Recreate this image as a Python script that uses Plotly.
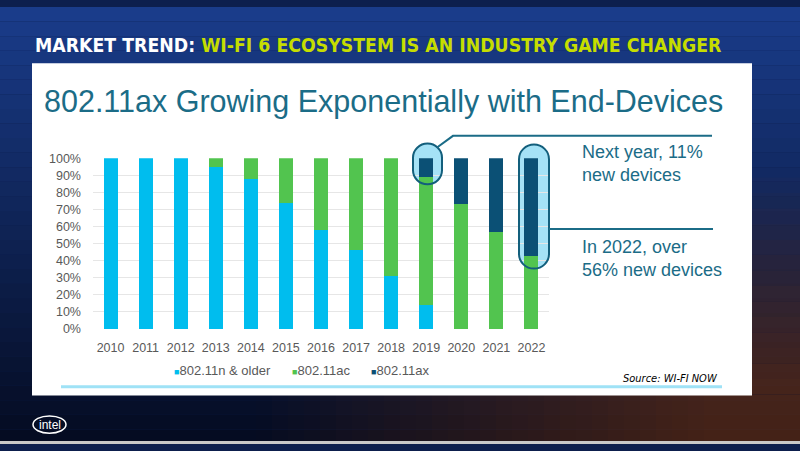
import plotly.graph_objects as go

# ---------------- data ----------------
years = [str(y) for y in range(2010, 2023)]
n_older = [100, 100, 100, 95, 88, 74, 58, 46, 31, 14, 0, 0, 0]
ac_vals = [0, 0, 0, 5, 12, 26, 42, 54, 69, 75, 73, 57, 43]
ax_vals = [0, 0, 0, 0, 0, 0, 0, 0, 0, 11, 27, 43, 57]
series_names = ["802.11n & older", "802.11ac", "802.11ax"]
y_ticks = [0, 10, 20, 30, 40, 50, 60, 70, 80, 90, 100]
y_tick_text = [f"{v}%" for v in y_ticks]

title_white = "MARKET TREND: "
title_green = "WI-FI 6 ECOSYSTEM IS AN INDUSTRY GAME CHANGER"
subtitle = "802.11ax Growing Exponentially with End-Devices"
note1 = "Next year, 11%<br>new devices"
note2 = "In 2022, over<br>56% new devices"
source = "Source: WI-FI NOW"

# ---------------- style ----------------
W, H = 800, 451
colors = ["#00bdee", "#52c44f", "#0b5075"]
teal = "#1b6c87"
tick_col = "#595959"
FONT = "Liberation Sans, Arial, sans-serif"
COND = "Liberation Sans Narrow, DejaVu Sans Condensed, sans-serif"


def px(x):
    return x / W


def py(y):
    return 1 - y / H


def stadium(x0, x1, yt, yb):
    r = (x1 - x0) / 2.0
    k = 0.5523 * r
    cx = (x0 + x1) / 2.0
    pts = [
        ("M", [(x0, yt + r)]),
        ("L", [(x0, yb - r)]),
        ("C", [(x0, yb - r + k), (cx - k, yb), (cx, yb)]),
        ("C", [(cx + k, yb), (x1, yb - r + k), (x1, yb - r)]),
        ("L", [(x1, yt + r)]),
        ("C", [(x1, yt + r - k), (cx + k, yt), (cx, yt)]),
        ("C", [(cx - k, yt), (x0, yt + r - k), (x0, yt + r)]),
    ]
    s = ""
    for cmd, pl in pts:
        s += cmd + " " + " ".join(f"{px(a):.5f},{py(b):.5f}" for a, b in pl) + " "
    return s + "Z"


fig = go.Figure()
for name, vals, col in zip(series_names, [n_older, ac_vals, ax_vals], colors):
    fig.add_trace(go.Bar(x=years, y=vals, name=name, marker=dict(color=col, line=dict(width=0)),
                         showlegend=False))

shapes = []
# background gradient (dark navy slide)
top = (26, 60, 138)
bot = (5, 12, 34)
nb = 30
for i in range(nb):
    t = i / (nb - 1)
    c = tuple(int(top[j] + (bot[j] - top[j]) * t) for j in range(3))
    shapes.append(dict(type="rect", xref="paper", yref="paper", x0=0, x1=1,
                       y0=py((i + 1) * H / nb), y1=py(i * H / nb),
                       fillcolor=f"rgb{c}", line=dict(width=0), layer="below"))
# warm glow along the bottom strip (horizontal gradient)
for x in range(240, 800, 16):
    a = min(max((x - 240) / 460.0, 0), 1) * 0.55
    shapes.append(dict(type="rect", xref="paper", yref="paper", x0=px(x), x1=px(x + 16),
                       y0=py(448), y1=py(400), fillcolor=f"rgba(120,52,14,{a:.3f})",
                       line=dict(width=0), layer="below"))
# warm glow along the right edge (vertical gradient)
for y in range(160, 400, 16):
    a = min(max((y - 160) / 220.0, 0), 1) * 0.55
    shapes.append(dict(type="rect", xref="paper", yref="paper", x0=px(750), x1=1,
                       y0=py(y + 16), y1=py(y), fillcolor=f"rgba(120,52,14,{a:.3f})",
                       line=dict(width=0), layer="below"))
# bottom grey strip
shapes.append(dict(type="rect", xref="paper", yref="paper", x0=0, x1=1, y0=0, y1=py(448),
                   fillcolor="#c9c9c9", line=dict(width=0), layer="below"))
# white panel
shapes.append(dict(type="rect", xref="paper", yref="paper", x0=px(32), x1=px(752),
                   y0=py(401), y1=py(58), fillcolor="white", line=dict(width=0), layer="below"))
# light blue rule
shapes.append(dict(type="line", xref="paper", yref="paper", x0=px(61), x1=px(722),
                   y0=py(392), y1=py(392), line=dict(color="#9fe2f6", width=3), layer="below"))
# ovals (fill below, outline above)
for (x0, x1, yt, yb) in [(413, 442, 141, 183), (519, 549, 142, 270)]:
    p = stadium(x0, x1, yt, yb)
    shapes.append(dict(type="path", xref="paper", yref="paper", path=p,
                       fillcolor="#a5e2f6", line=dict(width=0), layer="below"))
    shapes.append(dict(type="path", xref="paper", yref="paper", path=p,
                       fillcolor="rgba(0,0,0,0)", line=dict(color="#135f7c", width=2), layer="above"))
# connector lines
shapes.append(dict(type="path", xref="paper", yref="paper",
                   path=f"M {px(437)},{py(145)} L {px(453)},{py(133)} L {px(712)},{py(133)}",
                   line=dict(color=teal, width=2), layer="above"))
shapes.append(dict(type="line", xref="paper", yref="paper", x0=px(549), x1=px(713),
                   y0=py(229), y1=py(229), line=dict(color=teal, width=2), layer="above"))
# intel logo ring
shapes.append(dict(type="circle", xref="paper", yref="paper", x0=px(33), x1=px(66),
                   y0=py(440), y1=py(422), line=dict(color="white", width=1.5), layer="above"))

annotations = []
annotations.append(dict(xref="paper", yref="paper", x=px(33), y=py(40), xanchor="left", yanchor="middle",
                        showarrow=False,
                        text=f"<b>{title_white}<span style='color:#c6dd00'>{title_green}</span></b>",
                        font=dict(family=COND, size=19.3, color="white")))
annotations.append(dict(xref="paper", yref="paper", x=px(42), y=py(98), xanchor="left", yanchor="middle",
                        showarrow=False, text=subtitle, font=dict(family=FONT, size=30.5, color=teal)))
annotations.append(dict(xref="paper", yref="paper", x=px(580), y=py(162), xanchor="left", yanchor="middle",
                        showarrow=False, align="left", text=note1, font=dict(family=FONT, size=18, color=teal)))
annotations.append(dict(xref="paper", yref="paper", x=px(580), y=py(260), xanchor="left", yanchor="middle",
                        showarrow=False, align="left", text=note2, font=dict(family=FONT, size=18, color=teal)))
annotations.append(dict(xref="paper", yref="paper", x=px(720), y=py(383), xanchor="right", yanchor="middle",
                        showarrow=False, text=f"<i>{source}</i>", font=dict(family=COND, size=11, color="black")))
# legend (manual, small square swatches)
for name, col, lx in zip(series_names, colors, [172, 290, 369]):
    annotations.append(dict(xref="paper", yref="paper", x=px(lx), y=py(375), xanchor="left", yanchor="middle",
                            showarrow=False,
                            text=f"<span style='color:{col};font-size:9px'>■</span>{name}",
                            font=dict(family=FONT, size=13, color=tick_col)))
annotations.append(dict(xref="paper", yref="paper", x=px(49.5), y=py(431), xanchor="center", yanchor="middle",
                        showarrow=False, text="intel", font=dict(family=FONT, size=12, color="white")))

fig.update_layout(
    width=W, height=H, autosize=False,
    margin=dict(l=0, r=0, t=0, b=0, pad=0),
    paper_bgcolor="#0d1f4d", plot_bgcolor="rgba(0,0,0,0)",
    barmode="stack", bargap=0.6,
    showlegend=False,
    shapes=shapes, annotations=annotations,
    xaxis=dict(domain=[px(93), px(549)], type="category", showgrid=False, zeroline=False,
               showline=False, ticks="", tickfont=dict(family=FONT, size=12.5, color=tick_col),
               ticklabelstandoff=10, fixedrange=True),
    yaxis=dict(domain=[py(332.3), py(156)], range=[0, 100], tickmode="array",
               tickvals=y_ticks, ticktext=y_tick_text,
               showgrid=True, gridcolor="#e6e6e6", gridwidth=1, zeroline=False, showline=False,
               ticks="", tickfont=dict(family=FONT, size=12.5, color=tick_col),
               ticklabelstandoff=11, fixedrange=True),
)

fig.write_html("out.html", config={"displayModeBar": False},
               post_script="document.body.style.margin='0';document.body.style.overflow='hidden';")
